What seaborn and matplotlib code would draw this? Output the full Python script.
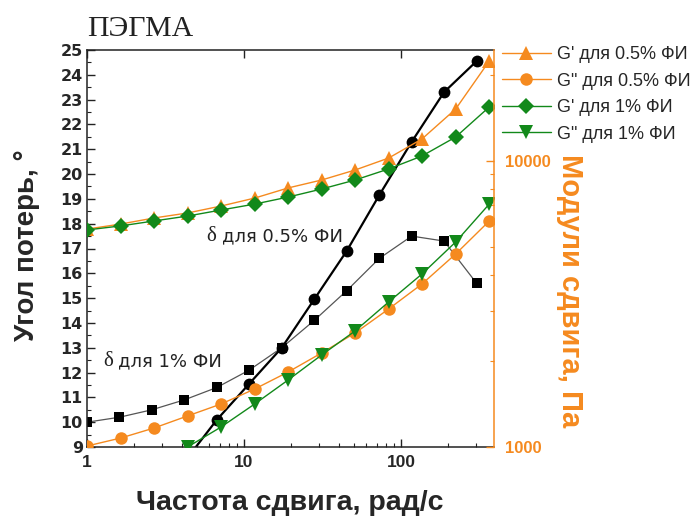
import numpy as np
import pandas as pd
import matplotlib
matplotlib.use("Agg")
import matplotlib.pyplot as plt
from matplotlib.ticker import FixedLocator, LogLocator, NullFormatter, FuncFormatter
import seaborn as sns

# Shear frequency grids, rad/s (loss-angle sweep and modulus sweep)
freq_delta = [1.0, 1.61, 2.59, 4.17, 6.72, 10.8, 17.4, 28.0, 45.1, 72.7, 117, 188, 303]
freq_mod = [1.0, 1.64, 2.67, 4.37, 7.15, 11.7, 19.1, 31.2, 51.0, 83.4, 136, 223, 365]

# Loss angle, degrees
delta_05 = [np.nan, np.nan, np.nan, 8.4, 10.1, 11.55, 13.0, 14.95, 16.9, 19.15, 21.3, 23.3, 24.55]
delta_1 = [10.0, 10.2, 10.5, 10.9, 11.4, 12.1, 13.0, 14.1, 15.3, 16.6, 17.5, 17.3, 15.6]

# Storage / loss moduli, Pa
g1_05 = [5780, 6020, 6320, 6580, 6960, 7420, 8050, 8580, 9300, 10240, 11940, 15200, 22370]
g2_05 = [1008, 1075, 1165, 1284, 1414, 1595, 1829, 2132, 2504, 3037, 3715, 4730, 6170]
g1_1 = [5740, 5930, 6170, 6420, 6740, 7070, 7480, 7980, 8580, 9380, 10410, 12130, 15450]
g2_1 = [np.nan, np.nan, np.nan, 1000, 1175, 1414, 1715, 2097, 2545, 3214, 4026, 5210, 7072]

labels = ["G' для 0.5% ФИ", 'G" для 0.5% ФИ', "G' для 1% ФИ", 'G" для 1% ФИ']

sns.set_style("ticks")
plt.rcParams["font.family"] = ["DejaVu Sans"]

ORANGE = "#F58A1F"
GREEN = "#12891A"

fig = plt.figure(figsize=(6.97, 5.20), dpi=100)
ax = fig.add_axes([87 / 697, 1 - 447 / 520, 407 / 697, 397 / 520])
ax2 = ax.twinx()

df_delta = pd.DataFrame({"freq": freq_delta, "d05": delta_05, "d1": delta_1})
df_mod = pd.DataFrame({"freq": freq_mod, "g1_05": g1_05, "g2_05": g2_05,
                       "g1_1": g1_1, "g2_1": g2_1})

# Loss angle curves (left axis)
sns.lineplot(data=df_delta, x="freq", y="d1", ax=ax, estimator=None, sort=False,
             color="#555555", lw=0.9, marker="s", markersize=7.5,
             markerfacecolor="black", markeredgecolor="black", markeredgewidth=0)
sns.lineplot(data=df_delta, x="freq", y="d05", ax=ax, estimator=None, sort=False,
             color="black", lw=1.6, marker="o", markersize=8.5,
             markeredgewidth=0)

# Moduli curves (right axis)
specs = [("g1_05", "^", ORANGE, 9.5), ("g2_05", "o", ORANGE, 9.0),
         ("g1_1", "D", GREEN, 8.3), ("g2_1", "v", GREEN, 9.5)]
for (col, mk, colr, ms), lab in zip(specs, labels):
    sns.lineplot(data=df_mod, x="freq", y=col, ax=ax2, estimator=None, sort=False,
                 color=colr, lw=1.0, marker=mk, markersize=ms, markeredgewidth=0,
                 label=lab)

xmax = 10 ** ((494 - 87) / 157)
ax.set_xscale("log")
ax.set_xlim(1, xmax)
ax.set_ylim(9, 25)
ax2.set_yscale("log")
ax2.set_ylim(1000, 10 ** (3 + 397 / 286))

# Left axis ticks
ax.yaxis.set_major_locator(FixedLocator(np.arange(9, 26, 1)))
ax.yaxis.set_minor_locator(FixedLocator(np.arange(9.5, 25, 1)))
ax.xaxis.set_major_locator(FixedLocator([1, 10, 100]))
ax.xaxis.set_minor_locator(LogLocator(base=10, subs=np.arange(2, 10)))
ax.xaxis.set_major_formatter(FuncFormatter(lambda v, p: f"{v:g}"))
ax.xaxis.set_minor_formatter(NullFormatter())
ax.tick_params(axis="both", which="both", direction="in", color="#222222")
ax.tick_params(axis="both", which="major", length=6, width=1)
ax.tick_params(axis="both", which="minor", length=3, width=0.8)
ax.tick_params(axis="x", top=True, bottom=True)
ax.tick_params(axis="y", left=True, right=False, pad=3)
ax.tick_params(axis="x", pad=6)
for t in ax.get_yticklabels():
    t.set_fontfamily("DejaVu Sans")
    t.set_fontweight("bold")
    t.set_fontsize(11.5)
for t in ax.get_xticklabels():
    t.set_fontfamily("Liberation Sans")
    t.set_fontweight("bold")
    t.set_fontsize(12.5)

# Right axis ticks
ax2.yaxis.set_major_locator(FixedLocator([1000, 10000]))
ax2.yaxis.set_minor_locator(LogLocator(base=10, subs=np.arange(2, 10)))
ax2.yaxis.set_major_formatter(FuncFormatter(lambda v, p: f"{v:.0f}"))
ax2.yaxis.set_minor_formatter(NullFormatter())
ax2.tick_params(axis="y", which="both", direction="in", color=ORANGE, labelcolor=ORANGE)
ax2.tick_params(axis="y", which="major", length=6, width=1, pad=8)
ax2.tick_params(axis="y", which="minor", length=3, width=0.8)
for t in ax2.get_yticklabels():
    t.set_fontfamily("Liberation Sans")
    t.set_fontweight("bold")
    t.set_fontsize(12)

for side in ["left", "bottom", "top"]:
    ax.spines[side].set_color("#222222")
    ax.spines[side].set_linewidth(1.1)
ax.spines["right"].set_visible(False)
for side in ["left", "bottom", "top"]:
    ax2.spines[side].set_visible(False)
ax2.spines["right"].set_color(ORANGE)
ax2.spines["right"].set_linewidth(1.1)

# Axis labels
ax.set_xlabel("Частота сдвига, рад/с", fontfamily="Liberation Sans",
              fontweight="bold", fontsize=20.5, va="center", ha="center")
ax.xaxis.set_label_coords((290 - 87) / 407, (447 - 503) / 397)
ax.set_ylabel("Угол потерь, °", fontfamily="Liberation Sans",
              fontweight="bold", fontsize=20, va="center", ha="center")
ax.yaxis.set_label_coords((27 - 87) / 407, (447 - 245) / 397)
ax2.set_ylabel("Модули сдвига, Па", fontfamily="Liberation Sans",
               fontweight="bold", fontsize=21, color=ORANGE, rotation=270,
               va="center", ha="center")
ax2.yaxis.set_label_coords((570 - 87) / 407, (447 - 291) / 397)

# Curve annotations
ax.text(0.332, 0.519, "для 0.5% ФИ", transform=ax.transAxes, fontsize=13,
        fontfamily="DejaVu Sans", color="#222222", va="baseline", ha="left")
ax.text(0.317, 0.519, "δ", transform=ax.transAxes, fontsize=15,
        fontfamily="Liberation Serif", color="#222222", va="baseline", ha="right")
ax.text(0.076, 0.204, "для 1% ФИ", transform=ax.transAxes, fontsize=13,
        fontfamily="DejaVu Sans", color="#222222", va="baseline", ha="left")
ax.text(0.064, 0.204, "δ", transform=ax.transAxes, fontsize=15,
        fontfamily="Liberation Serif", color="#222222", va="baseline", ha="right")

# Title
fig.text(87 / 697, 1 - 36 / 520, "ПЭГМА", fontfamily="Liberation Serif",
         fontsize=21.5, color="#222222", ha="left", va="baseline")

# Legend outside the plot
ax2.legend(loc="upper left", bbox_to_anchor=(502 / 697, 1 - 46 / 520),
           bbox_transform=fig.transFigure, frameon=False, borderpad=0,
           borderaxespad=0, handlelength=2.7, handletextpad=0.35,
           labelspacing=0.53, prop={"family": "Liberation Sans", "size": 13})

fig.savefig("out.png", dpi=100)
